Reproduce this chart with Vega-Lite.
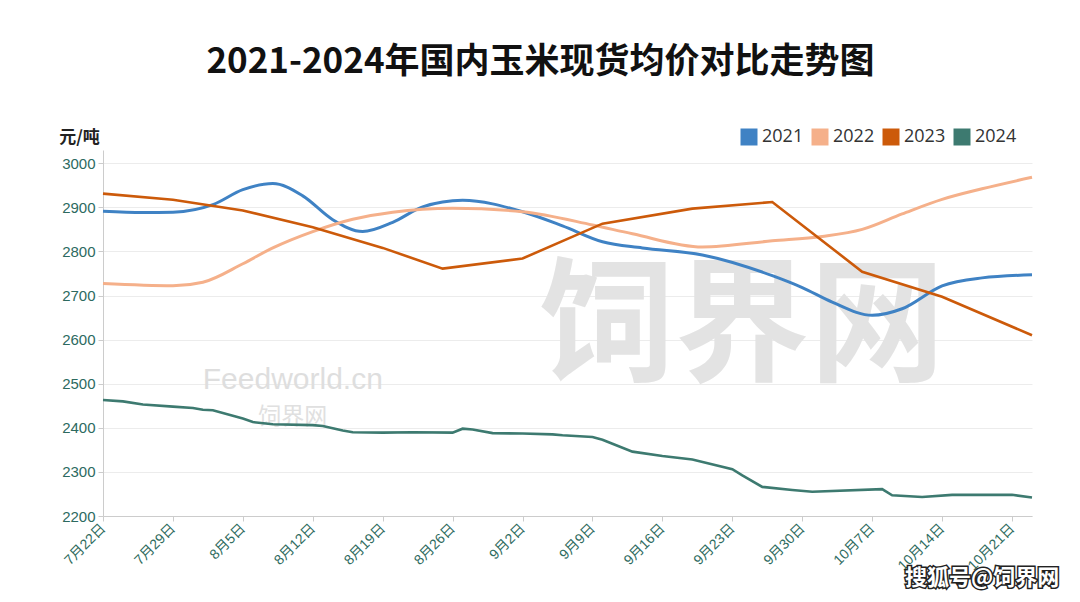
{
  "$schema": "https://vega.github.io/schema/vega-lite/v6.json",
  "width": 929,
  "height": 366,
  "autosize": {"type": "none"},
  "padding": {"left": 103, "top": 150, "right": 48, "bottom": 86},
  "background": "white",
  "title": {
    "text": "2021-2024年国内玉米现货均价对比走势图",
    "font": "Noto Sans CJK SC",
    "fontSize": 35,
    "fontWeight": "bold",
    "color": "#111111",
    "anchor": "middle",
    "frame": "group",
    "dx": -27,
    "offset": 48
  },
  "datasets": {
    "prices": [
      {"year": "2021", "date": "2024-07-22", "price": 2891},
      {"year": "2021", "date": "2024-07-26", "price": 2888},
      {"year": "2021", "date": "2024-07-29", "price": 2889},
      {"year": "2021", "date": "2024-08-02", "price": 2906},
      {"year": "2021", "date": "2024-08-05", "price": 2940},
      {"year": "2021", "date": "2024-08-08", "price": 2954},
      {"year": "2021", "date": "2024-08-11", "price": 2926},
      {"year": "2021", "date": "2024-08-14", "price": 2872},
      {"year": "2021", "date": "2024-08-17", "price": 2845},
      {"year": "2021", "date": "2024-08-20", "price": 2866},
      {"year": "2021", "date": "2024-08-23", "price": 2901},
      {"year": "2021", "date": "2024-08-27", "price": 2916},
      {"year": "2021", "date": "2024-09-02", "price": 2890},
      {"year": "2021", "date": "2024-09-06", "price": 2858},
      {"year": "2021", "date": "2024-09-10", "price": 2822},
      {"year": "2021", "date": "2024-09-14", "price": 2808},
      {"year": "2021", "date": "2024-09-20", "price": 2792},
      {"year": "2021", "date": "2024-09-27", "price": 2745},
      {"year": "2021", "date": "2024-09-30", "price": 2718},
      {"year": "2021", "date": "2024-10-03", "price": 2685},
      {"year": "2021", "date": "2024-10-07", "price": 2655},
      {"year": "2021", "date": "2024-10-10", "price": 2670},
      {"year": "2021", "date": "2024-10-14", "price": 2722},
      {"year": "2021", "date": "2024-10-18", "price": 2740},
      {"year": "2021", "date": "2024-10-23", "price": 2747},
      {"year": "2022", "date": "2024-07-22", "price": 2727},
      {"year": "2022", "date": "2024-07-29", "price": 2722},
      {"year": "2022", "date": "2024-08-01", "price": 2730},
      {"year": "2022", "date": "2024-08-05", "price": 2772},
      {"year": "2022", "date": "2024-08-08", "price": 2808},
      {"year": "2022", "date": "2024-08-12", "price": 2845},
      {"year": "2022", "date": "2024-08-16", "price": 2873},
      {"year": "2022", "date": "2024-08-20", "price": 2889},
      {"year": "2022", "date": "2024-08-26", "price": 2898},
      {"year": "2022", "date": "2024-09-02", "price": 2890},
      {"year": "2022", "date": "2024-09-09", "price": 2860},
      {"year": "2022", "date": "2024-09-13", "price": 2840},
      {"year": "2022", "date": "2024-09-20", "price": 2810},
      {"year": "2022", "date": "2024-09-27", "price": 2824},
      {"year": "2022", "date": "2024-10-02", "price": 2834},
      {"year": "2022", "date": "2024-10-06", "price": 2850},
      {"year": "2022", "date": "2024-10-10", "price": 2885},
      {"year": "2022", "date": "2024-10-14", "price": 2918},
      {"year": "2022", "date": "2024-10-18", "price": 2942},
      {"year": "2022", "date": "2024-10-23", "price": 2968},
      {"year": "2023", "date": "2024-07-22", "price": 2931},
      {"year": "2023", "date": "2024-07-29", "price": 2917},
      {"year": "2023", "date": "2024-08-05", "price": 2893},
      {"year": "2023", "date": "2024-08-12", "price": 2855},
      {"year": "2023", "date": "2024-08-19", "price": 2808},
      {"year": "2023", "date": "2024-08-25", "price": 2761},
      {"year": "2023", "date": "2024-09-02", "price": 2784},
      {"year": "2023", "date": "2024-09-10", "price": 2863},
      {"year": "2023", "date": "2024-09-19", "price": 2897},
      {"year": "2023", "date": "2024-09-27", "price": 2912},
      {"year": "2023", "date": "2024-10-06", "price": 2754},
      {"year": "2023", "date": "2024-10-14", "price": 2697},
      {"year": "2023", "date": "2024-10-23", "price": 2610},
      {"year": "2024", "date": "2024-07-22", "price": 2463},
      {"year": "2024", "date": "2024-07-24", "price": 2460},
      {"year": "2024", "date": "2024-07-26", "price": 2453},
      {"year": "2024", "date": "2024-07-29", "price": 2448},
      {"year": "2024", "date": "2024-07-31", "price": 2445},
      {"year": "2024", "date": "2024-08-01", "price": 2441},
      {"year": "2024", "date": "2024-08-02", "price": 2440},
      {"year": "2024", "date": "2024-08-05", "price": 2421},
      {"year": "2024", "date": "2024-08-06", "price": 2413},
      {"year": "2024", "date": "2024-08-08", "price": 2408},
      {"year": "2024", "date": "2024-08-12", "price": 2406},
      {"year": "2024", "date": "2024-08-13", "price": 2404},
      {"year": "2024", "date": "2024-08-15", "price": 2394},
      {"year": "2024", "date": "2024-08-16", "price": 2390},
      {"year": "2024", "date": "2024-08-19", "price": 2389},
      {"year": "2024", "date": "2024-08-22", "price": 2390},
      {"year": "2024", "date": "2024-08-26", "price": 2389},
      {"year": "2024", "date": "2024-08-27", "price": 2398},
      {"year": "2024", "date": "2024-08-28", "price": 2396},
      {"year": "2024", "date": "2024-08-30", "price": 2388},
      {"year": "2024", "date": "2024-09-02", "price": 2387},
      {"year": "2024", "date": "2024-09-05", "price": 2385},
      {"year": "2024", "date": "2024-09-06", "price": 2383},
      {"year": "2024", "date": "2024-09-09", "price": 2379},
      {"year": "2024", "date": "2024-09-10", "price": 2373},
      {"year": "2024", "date": "2024-09-11", "price": 2364},
      {"year": "2024", "date": "2024-09-13", "price": 2346},
      {"year": "2024", "date": "2024-09-16", "price": 2336},
      {"year": "2024", "date": "2024-09-19", "price": 2328},
      {"year": "2024", "date": "2024-09-23", "price": 2306},
      {"year": "2024", "date": "2024-09-24", "price": 2292},
      {"year": "2024", "date": "2024-09-26", "price": 2266},
      {"year": "2024", "date": "2024-09-29", "price": 2259},
      {"year": "2024", "date": "2024-10-01", "price": 2255},
      {"year": "2024", "date": "2024-10-08", "price": 2261},
      {"year": "2024", "date": "2024-10-09", "price": 2247},
      {"year": "2024", "date": "2024-10-12", "price": 2243},
      {"year": "2024", "date": "2024-10-15", "price": 2248},
      {"year": "2024", "date": "2024-10-21", "price": 2248},
      {"year": "2024", "date": "2024-10-23", "price": 2242}
    ]
  },
  "layer": [
    {
      "data": {"values": [{}]},
      "mark": {"type": "text", "text": "饲界网", "font": "Noto Sans CJK SC", "fontWeight": "bold", "fontSize": 135, "color": "#e3e3e3", "align": "center", "baseline": "middle"},
      "encoding": {
        "x": {"datum": {"year": 2024, "month": 9, "date": 24, "utc": true}, "type": "temporal"},
        "y": {"datum": 2622, "type": "quantitative"}
      }
    },
    {
      "data": {"values": [{}]},
      "mark": {"type": "text", "text": "Feedworld.cn", "font": "Liberation Sans", "fontSize": 30, "color": "#dedede", "align": "center", "baseline": "middle"},
      "encoding": {
        "x": {"datum": {"year": 2024, "month": 8, "date": 10, "utc": true}, "type": "temporal"},
        "y": {"datum": 2508, "type": "quantitative"}
      }
    },
    {
      "data": {"values": [{}]},
      "mark": {"type": "text", "text": "饲界网", "font": "Noto Sans CJK SC", "fontSize": 23, "color": "#e0e0e0", "align": "center", "baseline": "middle"},
      "encoding": {
        "x": {"datum": {"year": 2024, "month": 8, "date": 10, "utc": true}, "type": "temporal"},
        "y": {"datum": 2424, "type": "quantitative"}
      }
    },
    {
      "data": {"name": "prices"},
      "transform": [{"filter": "datum.year == '2021' || datum.year == '2022'"}],
      "mark": {"type": "line", "interpolate": "monotone", "strokeWidth": 3},
      "encoding": {
        "x": {
          "field": "date", "type": "temporal",
          "scale": {"domain": [{"year": 2024, "month": 7, "date": 22, "utc": true}, {"year": 2024, "month": 10, "date": 23, "utc": true}], "nice": false},
          "axis": {
            "title": null,
            "values": [
              {"year": 2024, "month": 7, "date": 22, "utc": true},
              {"year": 2024, "month": 7, "date": 29, "utc": true},
              {"year": 2024, "month": 8, "date": 5, "utc": true},
              {"year": 2024, "month": 8, "date": 12, "utc": true},
              {"year": 2024, "month": 8, "date": 19, "utc": true},
              {"year": 2024, "month": 8, "date": 26, "utc": true},
              {"year": 2024, "month": 9, "date": 2, "utc": true},
              {"year": 2024, "month": 9, "date": 9, "utc": true},
              {"year": 2024, "month": 9, "date": 16, "utc": true},
              {"year": 2024, "month": 9, "date": 23, "utc": true},
              {"year": 2024, "month": 9, "date": 30, "utc": true},
              {"year": 2024, "month": 10, "date": 7, "utc": true},
              {"year": 2024, "month": 10, "date": 14, "utc": true},
              {"year": 2024, "month": 10, "date": 21, "utc": true}
            ],
            "labelExpr": "utcFormat(datum.value, '%-m月%-d日')",
            "labelAngle": -45,
            "labelAlign": "right",
            "labelBaseline": "middle",
            "labelFont": "Liberation Sans, Noto Sans CJK SC",
            "labelFontSize": 14,
            "labelColor": "#2e6b5e",
            "labelPadding": 5,
            "tickColor": "#cccccc",
            "tickSize": 5,
            "domainColor": "#cccccc",
            "grid": false
          }
        },
        "y": {
          "field": "price", "type": "quantitative",
          "scale": {"domain": [2200, 3030], "nice": false, "zero": false},
          "axis": {
            "values": [2200, 2300, 2400, 2500, 2600, 2700, 2800, 2900, 3000],
            "format": "d",
            "title": "元/吨",
            "titleAngle": 0,
            "titleX": -24,
            "titleY": -13,
            "titleAlign": "center",
            "titleBaseline": "middle",
            "titleFont": "Noto Sans CJK SC",
            "titleFontSize": 17,
            "titleFontWeight": "bold",
            "titleColor": "#222222",
            "labelFont": "Liberation Sans",
            "labelFontSize": 15,
            "labelColor": "#2d6a5f",
            "labelPadding": 3,
            "tickColor": "#cccccc",
            "tickSize": 5,
            "domainColor": "#cccccc",
            "grid": true,
            "gridColor": "#ececec"
          }
        },
        "color": {
          "field": "year", "type": "nominal",
          "scale": {"domain": ["2021", "2022", "2023", "2024"], "range": ["#3f82c4", "#f5b08a", "#cc5a0a", "#3d7a70"]},
          "legend": {
            "title": null,
            "orient": "none",
            "legendX": 637,
            "legendY": -22,
            "direction": "horizontal",
            "symbolType": "square",
            "symbolSize": 289,
            "symbolStrokeWidth": 0,
            "labelFont": "Open Sans",
            "labelFontSize": 18,
            "labelColor": "#333333",
            "labelOffset": 4,
            "columnPadding": 7,
            "padding": 0,
            "encode": {"symbols": {"update": {"fill": {"scale": "color", "field": "value"}, "fillOpacity": {"value": 1}, "stroke": {"value": "transparent"}}}}
          }
        }
      }
    },
    {
      "data": {"name": "prices"},
      "transform": [{"filter": "datum.year == '2023'"}],
      "mark": {"type": "line", "interpolate": "linear", "strokeWidth": 2.6},
      "encoding": {
        "x": {"field": "date", "type": "temporal"},
        "y": {"field": "price", "type": "quantitative"},
        "color": {"field": "year", "type": "nominal"}
      }
    },
    {
      "data": {"name": "prices"},
      "transform": [{"filter": "datum.year == '2024'"}],
      "mark": {"type": "line", "interpolate": "linear", "strokeWidth": 2.6},
      "encoding": {
        "x": {"field": "date", "type": "temporal"},
        "y": {"field": "price", "type": "quantitative"},
        "color": {"field": "year", "type": "nominal"}
      }
    },
    {
      "data": {"values": [{}]},
      "mark": {"type": "text", "text": "搜狐号@饲界网", "font": "Noto Sans CJK SC", "fontWeight": "bold", "fontSize": 22, "color": "#222222", "stroke": "#222222", "strokeWidth": 3, "align": "center", "baseline": "middle"},
      "encoding": {
        "x": {"datum": {"year": 2024, "month": 10, "date": 18, "utc": true}, "type": "temporal"},
        "y": {"datum": 2059, "type": "quantitative"}
      }
    },
    {
      "data": {"values": [{}]},
      "mark": {"type": "text", "text": "搜狐号@饲界网", "font": "Noto Sans CJK SC", "fontWeight": "bold", "fontSize": 22, "color": "#ffffff", "align": "center", "baseline": "middle"},
      "encoding": {
        "x": {"datum": {"year": 2024, "month": 10, "date": 18, "utc": true}, "type": "temporal"},
        "y": {"datum": 2059, "type": "quantitative"}
      }
    }
  ],
  "config": {
    "view": {"stroke": null},
    "font": "Liberation Sans"
  }
}
